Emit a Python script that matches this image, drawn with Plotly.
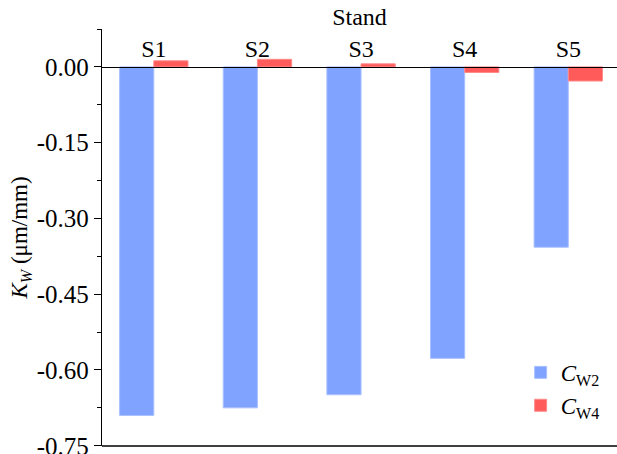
import plotly.graph_objects as go

stands = ["S1", "S2", "S3", "S4", "S5"]
cw2 = [-0.690, -0.675, -0.649, -0.577, -0.357]
cw4 = [0.012, 0.015, 0.006, -0.011, -0.028]
y_ticks = [0.00, -0.15, -0.30, -0.45, -0.60, -0.75]
y_ticktext = ["0.00", "-0.15", "-0.30", "-0.45", "-0.60", "-0.75"]

FONT = "Liberation Serif"
W, H = 617, 454
ml, mr, mt, mb = 102, 0, 29, 8
ymin, ymax = -0.7505, 0.075
zero_pos = (0 - ymin) / (ymax - ymin)

fig = go.Figure()
fig.add_trace(go.Bar(
    x=stands, y=cw2, name="<i>C</i><sub>W2</sub>",
    marker=dict(color="#80A3FF", line=dict(color="#A9C1FF", width=1)),
))
fig.add_trace(go.Bar(
    x=stands, y=cw4, name="<i>C</i><sub>W4</sub>",
    marker=dict(color="#FF5B5B", line=dict(color="#FF8A8A", width=1)),
))

fig.update_layout(
    width=W, height=H,
    margin=dict(l=ml, r=mr, t=mt, b=mb),
    plot_bgcolor="white", paper_bgcolor="white",
    barmode="group", bargap=0.34, bargroupgap=0,
    font=dict(family=FONT, size=24, color="black"),
    showlegend=True,
    legend=dict(
        x=0.976, y=0.228, xanchor="right", yanchor="top",
        bgcolor="rgba(0,0,0,0)", font=dict(size=23),
    ),
    xaxis=dict(
        range=[-0.5, 4.47],
        anchor="free", position=zero_pos, side="top",
        showline=True, linecolor="black", linewidth=1.3,
        ticks="", showgrid=False, automargin=False,
        title=dict(text="Stand", standoff=2, font=dict(size=24)),
        tickfont=dict(size=24),
    ),
    yaxis=dict(
        range=[ymin, ymax],
        tickvals=y_ticks, ticktext=y_ticktext,
        showline=True, linecolor="black", linewidth=1.3,
        ticks="outside", ticklen=7, tickwidth=1.3, tickcolor="black",
        minor=dict(ticks="outside", ticklen=4, tickwidth=1.3, tickcolor="black",
                   tick0=0.075, dtick=0.15),
        showgrid=False, zeroline=False, automargin=False,
        ticklabeloverflow="allow",
        title=dict(text="<i>K</i><sub><i>W</i></sub> (μm/mm)", font=dict(size=23), standoff=2),
        tickfont=dict(size=25),
    ),
    shapes=[dict(type="line", xref="paper", yref="paper", x0=0, x1=1, y0=0, y1=0,
                 line=dict(color="black", width=1.5), layer="above")],
)

fig.write_html(
    "out.html",
    config={"displayModeBar": False},
    post_script="document.body.style.margin='0';document.body.style.overflow='hidden';",
)
